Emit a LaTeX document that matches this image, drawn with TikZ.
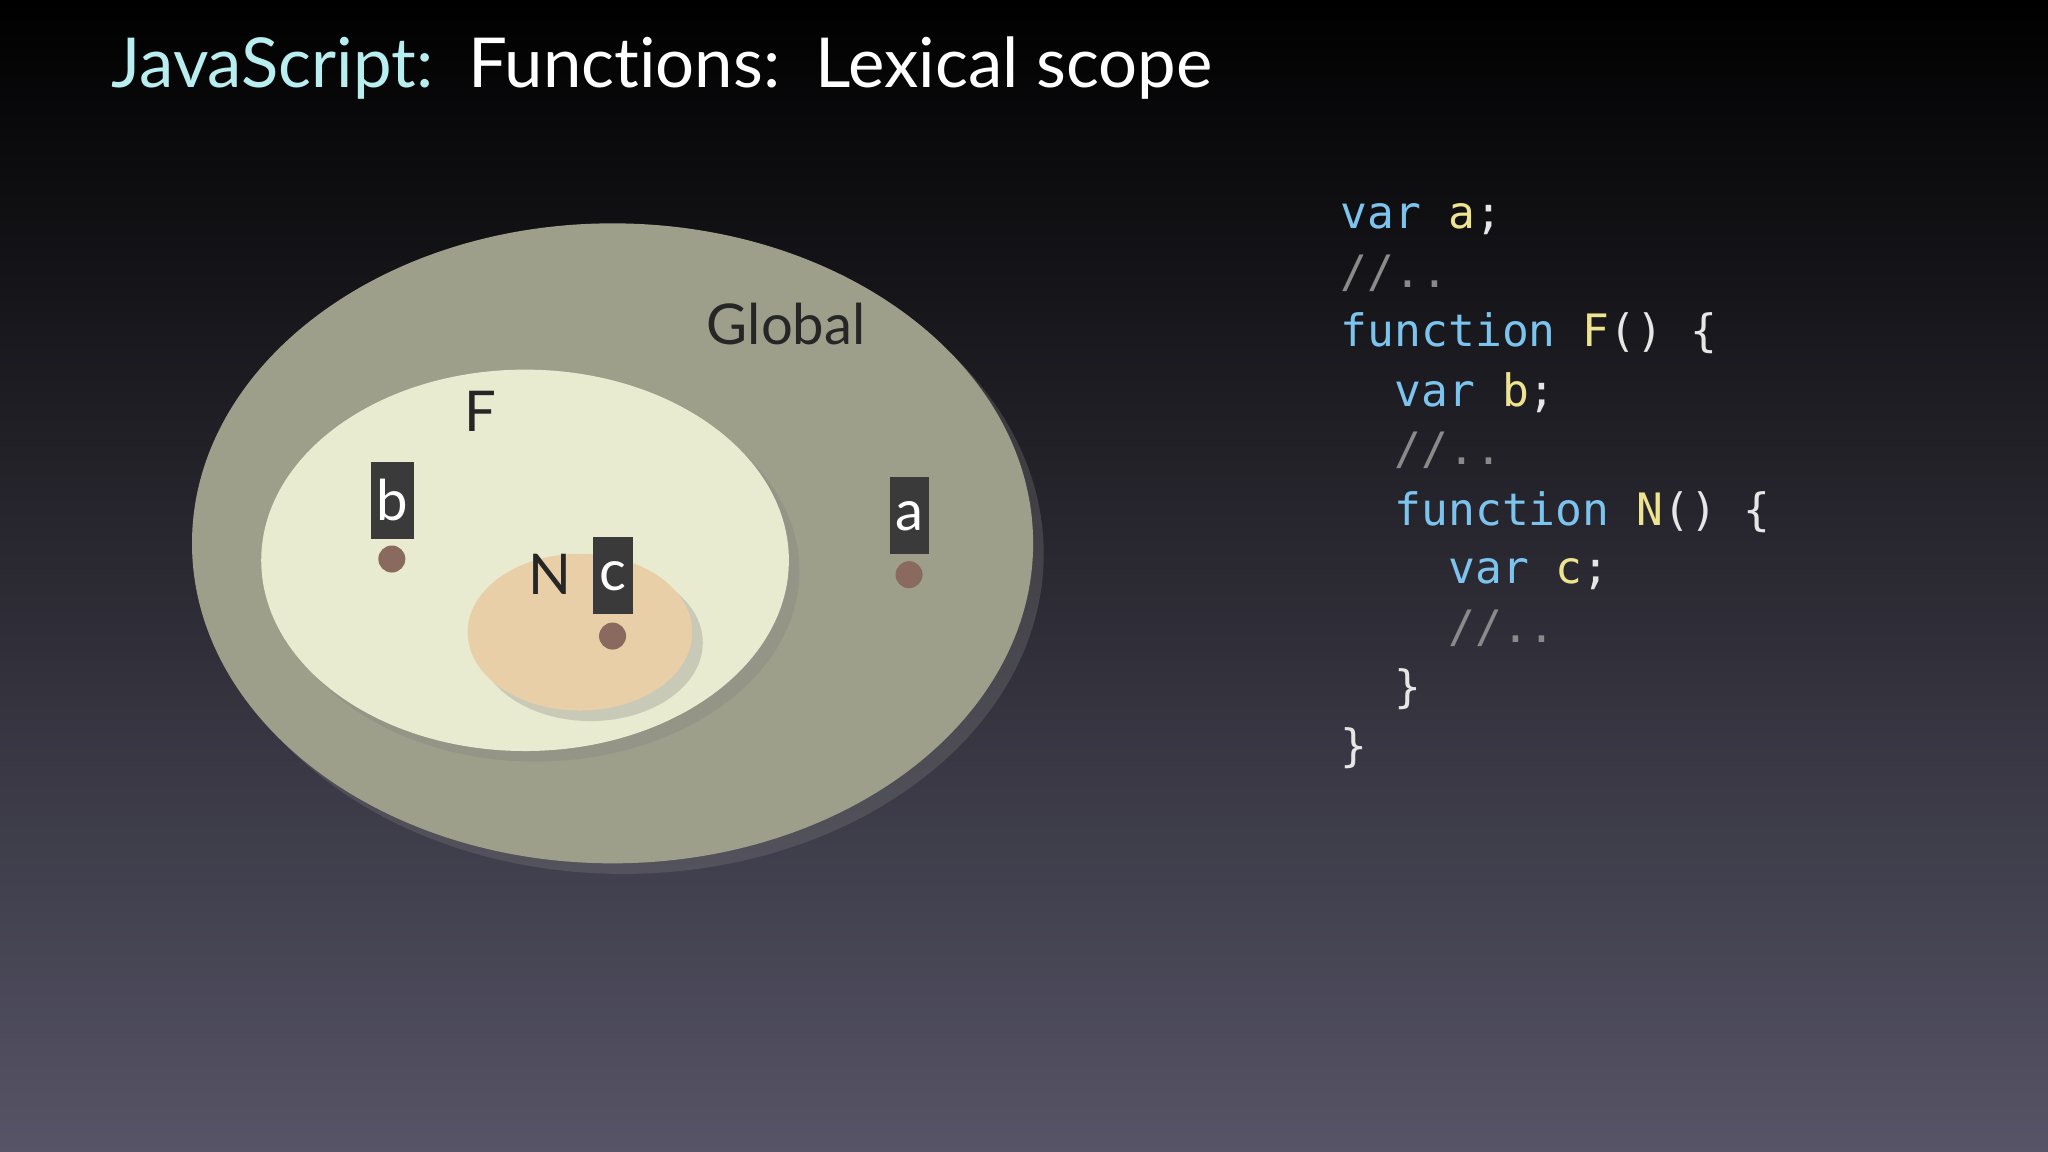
\documentclass[tikz,border=0pt]{standalone}
\usepackage{fontspec}
\setmainfont{Lato}
\newfontfamily\codefont{DejaVu Sans Mono}
\usetikzlibrary{shadows}
\definecolor{bgtop}{HTML}{000000}
\definecolor{bgbot}{HTML}{565466}
\definecolor{globalc}{HTML}{9D9F8B}
\definecolor{fc}{HTML}{E8EBCF}
\definecolor{nc}{HTML}{E8CFA8}
\definecolor{boxc}{HTML}{3A3A3A}
\definecolor{dotc}{HTML}{8A6A5E}
\definecolor{titlec}{HTML}{B8EEF0}
\definecolor{kw}{HTML}{7CC4EE}
\definecolor{idc}{HTML}{EEE490}
\definecolor{cm}{HTML}{8A8A8A}
\definecolor{pc}{HTML}{E6E6E6}
\tikzset{
  px/.style={x=0.013061cm,y=-0.013061cm},
  scopeell/.style={drop shadow={shadow xshift=3pt,shadow yshift=-3pt,opacity=0.3}},
  varbox/.style={fill=boxc,draw=none,text=white,font=\fontsize{16}{16}\selectfont,inner sep=0pt,minimum width=0.43cm,minimum height=0.77cm},
  vardot/.style={circle,fill=dotc,inner sep=0pt,minimum size=0.27cm},
  scopelabel/.style={text=black!85,font=\fontsize{16}{16}\selectfont},
  code/.style={anchor=base west,font=\codefont\fontsize{12.7}{12.7}\selectfont,inner sep=0pt}
}
\begin{document}
\begin{tikzpicture}[px]
\useasboundingbox (0,0) rectangle (1568,882);
\shade[top color=bgtop,bottom color=bgbot] (0,0) rectangle (1568,882);
\node[anchor=base west,inner sep=0pt,font=\fontsize{19.6}{19.6}\selectfont] (title) at (85,67)
  {\textcolor{titlec}{JavaScript:}\ \ \textcolor{white}{Funct\kern0pt ions:\ \ Lexical scope}};
% scopes
\fill[globalc,scopeell] (469,416) ellipse [x radius=322,y radius=245];
\fill[fc,scopeell] (402,429) ellipse [x radius=202,y radius=146];
\fill[nc,scopeell] (444,484) ellipse [x radius=86,y radius=60];
\node[scopelabel] (glab) at (602,248) {Global};
\node[scopelabel] (flab) at (368,315) {F};
\node[scopelabel] (nlab) at (421,440) {N};
% variables
\node[varbox,minimum width=0.43cm] (b) at (300.5,383) {b};
\node[vardot] (bd) at (300,428) {};
\node[varbox,minimum width=0.405cm] (c) at (469.5,441) {c};
\node[vardot] (cd) at (469,487) {};
\node[varbox,minimum width=0.39cm] (a) at (696,395) {a};
\node[vardot] (ad) at (696,440) {};
% code
\node[code] (l1) at (1026,175) {\textcolor{kw}{var} \textcolor{idc}{a}\textcolor{pc}{;}};
\node[code] (l2) at (1026,220) {\textcolor{cm}{//..}};
\node[code] (l3) at (1026,265) {\textcolor{kw}{function} \textcolor{idc}{F}\textcolor{pc}{() \{}};
\node[code] (l4) at (1026,311) {\textcolor{pc}{\ \ }\textcolor{kw}{var} \textcolor{idc}{b}\textcolor{pc}{;}};
\node[code] (l5) at (1026,356) {\textcolor{cm}{\ \ //..}};
\node[code] (l6) at (1026,402) {\textcolor{pc}{\ \ }\textcolor{kw}{function} \textcolor{idc}{N}\textcolor{pc}{() \{}};
\node[code] (l7) at (1026,447) {\textcolor{pc}{\ \ \ \ }\textcolor{kw}{var} \textcolor{idc}{c}\textcolor{pc}{;}};
\node[code] (l8) at (1026,492) {\textcolor{cm}{\ \ \ \ //..}};
\node[code] (l9) at (1026,538) {\textcolor{pc}{\ \ \}}};
\node[code] (l10) at (1026,583) {\textcolor{pc}{\}}};
\end{tikzpicture}
\end{document}
